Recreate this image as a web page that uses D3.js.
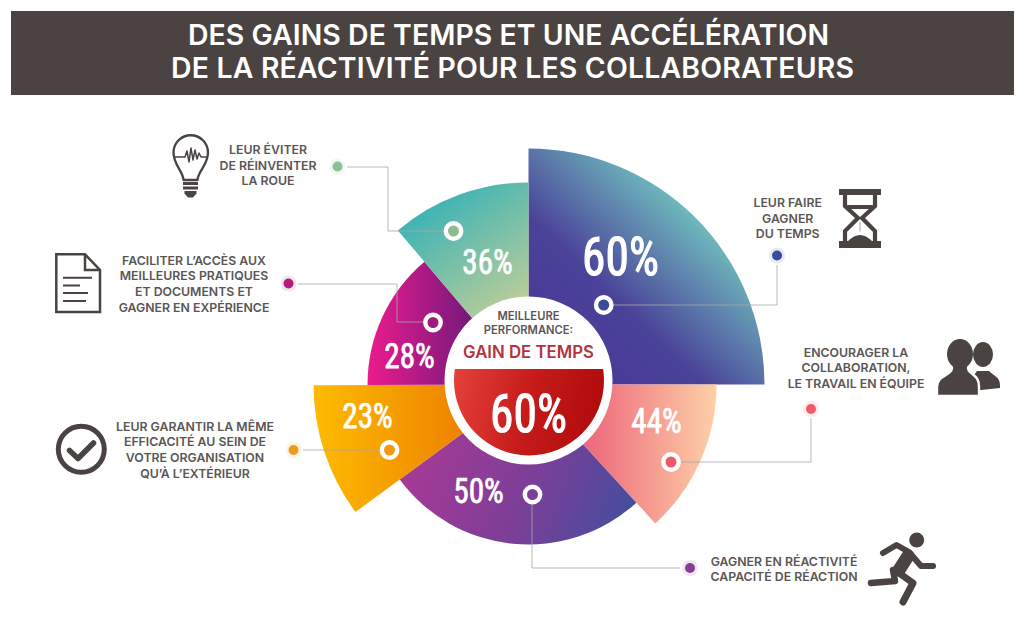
<!DOCTYPE html>
<html lang="fr"><head><meta charset="utf-8">
<script src="https://cdnjs.cloudflare.com/ajax/libs/d3/7.8.5/d3.min.js"></script>
<style>html,body{margin:0;padding:0;background:#fff}svg{display:block}</style></head>
<body><svg id="c" width="1024" height="635"></svg>
<script>
const titleLines = ["DES GAINS DE TEMPS ET UNE ACCÉLÉRATION","DE LA RÉACTIVITÉ POUR LES COLLABORATEURS"];
const values = [60,44,50,23,28,36];
const sweeps = [90,47.6,96,36.2,49.9,40.3];
const reach = [100,79.7,67.8,91.1,68.2,85.6];
const categories = [
 ["LEUR FAIRE","GAGNER","DU TEMPS"],
 ["ENCOURAGER LA","COLLABORATION,","LE TRAVAIL EN ÉQUIPE"],
 ["GAGNER EN RÉACTIVITÉ","CAPACITÉ DE RÉACTION"],
 ["LEUR GARANTIR LA MÊME","EFFICACITÉ AU SEIN DE","VOTRE ORGANISATION","QU’À L’EXTÉRIEUR"],
 ["FACILITER L’ACCÈS AUX","MEILLEURES PRATIQUES","ET DOCUMENTS ET","GAGNER EN EXPÉRIENCE"],
 ["LEUR ÉVITER","DE RÉINVENTER","LA ROUE"]];
const centerLines = ["MEILLEURE","PERFORMANCE:"];
const centerName = "GAIN DE TEMPS";
const centerValue = 60;

const layout = {
 cx:528.5, cy:384.5, rMax:236, hub:{cy:380.5,r:84,inner:75,chord:369},
 grads:[
  {p:[565,350,695,215],s:["#483a97","#4a4299","#6fbabd"],o:[0,.38,1]},
  {p:[590,0,716,0],s:["#ee6b7d","#fdd0a6"]},
  {p:[430,440,640,525],s:["#a23a96","#7a3f98","#3f4f9f"],o:[0,.5,1]},
  {p:[320,0,462,0],s:["#fdb900","#ee8300"]},
  {p:[370,0,472,0],s:["#ea1b8d","#74197c"]},
  {p:[425,205,510,325],s:["#3cb3b5","#c6cf97"]}],
 num:[[620.5,275,38],[656.5,433,25],[478.5,502.7,25],[367.5,428,25],[409.5,368,25],[487.5,273.5,25]],
 ring:[[603.7,305,"#3a4a9c"],[671,462,"#ee5a6c"],[532.5,494.5,"#7f3f98"],[389.5,450,"#f29a10"],[433,322.5,"#a01a7e"],[453.5,231,"#8dbb8f"]],
 dot:[[777,255.5,"#3d4a9e"],[811,409,"#ee5a6c"],[690,568,"#8a3d98"],[293.5,450,"#ef9a1a"],[288.5,283.5,"#b01f80"],[337.5,166.5,"#8dbf95"]],
 wire:[[[612,305],[777,305],[777,265]],[[680,462],[811,462],[811,418]],[[532,504],[532,568],[680,568]],[[303,450],[380,450]],[[298,284],[397,284],[397,322],[424,322]],[[347,167],[388,167],[388,231],[444,231]]],
 text:[[787.7,207],[856,356.5],[784,565.5],[195,430.5],[194,264.5],[268,153.8]]
};
const ink="#4a4341", txt="#5a5654";
const svg=d3.select("#c"), defs=svg.append("defs");
const BODY="Inter, 'Open Sans', sans-serif";
const NARROW="'Liberation Sans Narrow','Roboto Condensed','Liberation Sans',sans-serif";

// header
svg.append("rect").attr("x",11).attr("y",11).attr("width",1003).attr("height",84).attr("fill",ink);
svg.selectAll(".title").data(titleLines).join("text").attr("class","title")
 .attr("x",(d,i)=>i?512.5:508.5).attr("y",(d,i)=>i?77.5:44.5).attr("text-anchor","middle")
 .attr("textLength",(d,i)=>i?683:641).attr("lengthAdjust","spacing")
 .attr("fill","#fff").attr("font-family",BODY).attr("font-weight",600).attr("font-size",28.4).text(d=>d);

// gradients (slices are drawn in a group translated to the pie centre)
layout.grads.forEach((g,i)=>{
 const lg=defs.append("linearGradient").attr("id","g"+i).attr("gradientUnits","userSpaceOnUse")
  .attr("gradientTransform",`translate(${-layout.cx},${-layout.cy})`)
  .attr("x1",g.p[0]).attr("y1",g.p[1]).attr("x2",g.p[2]).attr("y2",g.p[3]);
 g.s.forEach((c,j)=>lg.append("stop").attr("offset",g.o?g.o[j]:j/(g.s.length-1)).attr("stop-color",c));
});
const rg=defs.append("linearGradient").attr("id","gr").attr("gradientUnits","userSpaceOnUse")
 .attr("x1",455).attr("y1",370).attr("x2",600).attr("y2",400);
[["0","#e5403a"],["0.55","#c41a1a"],["1","#b30c0c"]].forEach(s=>rg.append("stop").attr("offset",s[0]).attr("stop-color",s[1]));

// slices
const rad=d3.scaleLinear().domain([0,100]).range([0,layout.rMax]);
const toRad=d3.scaleLinear().domain([0,360]).range([0,2*Math.PI]);
const starts=d3.cumsum([0,...sweeps]);
const arc=d3.arc().innerRadius(0);
const plot=svg.append("g").attr("transform",`translate(${layout.cx},${layout.cy})`);
plot.selectAll("path").data(values).join("path")
 .attr("d",(d,i)=>arc({outerRadius:rad(reach[i]),startAngle:toRad(starts[i]),endAngle:toRad(starts[i+1])}))
 .attr("fill",(d,i)=>`url(#g${i})`);

// connectors
const line=d3.line();
svg.selectAll(".wire").data(layout.wire).join("path").attr("class","wire").attr("d",line)
 .attr("fill","none").attr("stroke","#a8a8a8").attr("stroke-opacity",.8).attr("stroke-width",1);

// rings & dots
svg.selectAll(".ring").data(layout.ring).join("circle").attr("class","ring")
 .attr("cx",d=>d[0]).attr("cy",d=>d[1]).attr("r",7.7).attr("fill",d=>d[2]).attr("stroke","#fff").attr("stroke-width",4.4);
svg.selectAll(".halo").data(layout.dot).join("circle").attr("class","halo")
 .attr("cx",d=>d[0]).attr("cy",d=>d[1]).attr("r",8).attr("fill",d=>d[2]).attr("opacity",.12);
svg.selectAll(".dot").data(layout.dot).join("circle").attr("class","dot")
 .attr("cx",d=>d[0]).attr("cy",d=>d[1]).attr("r",5).attr("fill",d=>d[2]);

// hub
const H=layout.hub;
svg.append("circle").attr("cx",layout.cx).attr("cy",H.cy).attr("r",H.r).attr("fill","#fff");
defs.append("clipPath").attr("id","chord").append("rect").attr("x",400).attr("y",H.chord).attr("width",260).attr("height",120);
svg.append("circle").attr("cx",layout.cx+.5).attr("cy",H.cy).attr("r",H.inner).attr("fill","url(#gr)").attr("clip-path","url(#chord)");
svg.selectAll(".cl").data(centerLines).join("text").attr("class","cl").attr("x",layout.cx).attr("y",(d,i)=>320+i*14.4)
 .attr("text-anchor","middle").attr("fill",txt).attr("font-family",BODY).attr("font-weight",600).attr("font-size",11.2).text(d=>d);
svg.append("text").attr("x",layout.cx).attr("y",358.3).attr("text-anchor","middle").attr("fill","#b5323c")
 .attr("font-family",BODY).attr("font-weight",600).attr("font-size",16.8).text(centerName);

// percentages
function pct(x,y,cap,v){
 const fs=cap/0.72;
 svg.append("text").attr("x",x).attr("y",y).attr("text-anchor","middle").attr("fill","#fff")
  .attr("stroke","#fff").attr("stroke-width",cap*0.03)
  .attr("font-family",NARROW).attr("font-weight",400).attr("font-size",fs)
  .attr("textLength",cap*2.02).attr("lengthAdjust","spacingAndGlyphs").text(v+"%");
}
values.forEach((v,i)=>pct(...layout.num[i],v));
pct(528.5,431.7,38,centerValue);

// labels
const lab=svg.append("g");
categories.forEach((lines,i)=>{
 lab.selectAll(null).data(lines).join("text").attr("x",layout.text[i][0]).attr("y",(d,j)=>layout.text[i][1]+j*15.7)
  .attr("text-anchor","middle").attr("fill",txt).attr("font-family",BODY).attr("font-weight",600).attr("font-size",12.3).text(d=>d);
});

// icons
const ic=svg.append("g").attr("fill","none").attr("stroke",ink).attr("stroke-linecap","round").attr("stroke-linejoin","round");
// bulb
ic.append("path").attr("stroke-width",2.3).attr("d","M183.5,180 C183,171 173.5,165 173.5,152.5 A17.2,17.2 0 1 1 208,152.5 C208,165 198,171 197.5,180 Z");
ic.append("path").attr("stroke-width",1.5).attr("d","M175,157 H185 L187,151 L189,162 L191,148 L193,160 L195,150 L197,159 L199,153 L201,157 H207");
ic.append("path").attr("stroke-width",3.2).attr("stroke-linecap","butt").attr("d","M183,183.5 H198 M183,188 H198 M184.5,192.5 H196.5");
ic.append("path").attr("fill",ink).attr("stroke","none").attr("d","M185,194 H196 L193,197.5 H188 Z");
// doc
ic.append("path").attr("stroke-width",2.5).attr("stroke-linejoin","miter").attr("d","M56.3,254.3 H85 L100,270 V312 H56.3 Z M85,254.3 V270 H100");
ic.append("path").attr("stroke-width",2).attr("stroke-linecap","butt").attr("d","M63,277.7 H92 M63,285.5 H80 M63,293 H88 M63,301 H86");
// check
ic.append("circle").attr("cx",81.3).attr("cy",449.3).attr("r",23).attr("stroke-width",5);
ic.append("path").attr("stroke-width",5.5).attr("d","M69.5,450.5 L78,458.5 L93.5,443");
// hourglass
ic.append("path").attr("fill",ink).attr("stroke","none").attr("d","M839,189 H881 V195 H839 Z M839,241 H881 V248 H839 Z M848,241 Q860,229 872,241 Z");
ic.append("path").attr("stroke-width",4.2).attr("stroke-linejoin","miter").attr("d","M845,195 V206 L858,218 L845,231 V241 M875,195 V206 L862,218 L875,231 V241 M848,207 H872");
ic.append("path").attr("stroke","#b9b4b0").attr("stroke-width",1.2).attr("d","M860,222 V231");
// people
const ppl=svg.append("g").attr("fill",ink);
ppl.append("ellipse").attr("cx",983).attr("cy",354.5).attr("rx",10).attr("ry",12.5);
ppl.append("path").attr("d","M966,385 C970,377 974,376 977,371 L989,371 C994,376 1000,377 1000,385 L1000,388 L972,391 Z");
ppl.append("path").attr("stroke","#fff").attr("stroke-width",2.4).attr("d","M937,396 V387 C937,377 947,376 951,371 C953,368 952,365 949,358 H971 C968,365 967,368 969,371 C974,376 979,377 979,387 V396 Z");
ppl.append("ellipse").attr("cx",960).attr("cy",354).attr("rx",13).attr("ry",15);
// runner
const run=svg.append("g").attr("fill","none").attr("stroke",ink).attr("stroke-linecap","round").attr("stroke-linejoin","round");
svg.append("circle").attr("cx",916.7).attr("cy",540).attr("r",7.5).attr("fill",ink);
run.append("path").attr("stroke-width",13).attr("d","M908,556 L899,570");
run.append("path").attr("stroke-width",6).attr("d","M883,553 L896.5,545 L909,552 L921,566 L933,566");
run.append("path").attr("stroke-width",6.5).attr("d","M893,570 L895,581 L871,583");
run.append("path").attr("stroke-width",7).attr("d","M899,573 L913,583 L903,602");
</script></body></html>
